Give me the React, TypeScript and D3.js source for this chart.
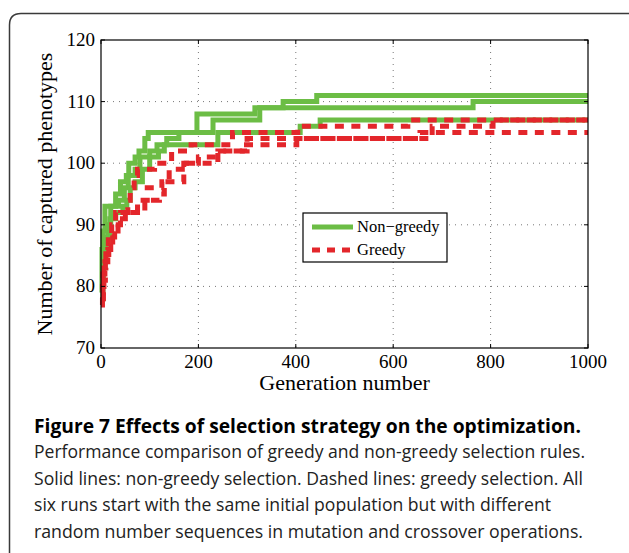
import React, { useEffect, useRef } from "react";
import * as d3 from "d3";

// step runs: [generation, captured phenotypes]
const nonGreedyRun1 = [[0, 79], [2, 86], [4, 89], [8, 93], [30, 95], [40, 97], [52, 98], [57, 100], [70, 101], [78, 102], [90, 104], [97, 105], [197, 108], [316, 109], [374, 110], [443, 111]];
const nonGreedyRun2 = [[0, 78], [4, 83], [8, 87], [14, 90], [20, 93], [36, 94], [48, 96], [56, 98], [70, 99], [80, 101], [100, 102], [115, 103], [135, 104], [160, 105], [230, 107], [326, 109], [764, 110]];
const nonGreedyRun3 = [[0, 80], [5, 84], [10, 88], [18, 91], [30, 92], [45, 93], [53, 94], [60, 96], [70, 97], [85, 99], [100, 101], [118, 102], [130, 103], [240, 105], [409, 106], [450, 107]];

const greedyRun1 = [[0, 77], [3, 80], [6, 83], [10, 86], [15, 88], [22, 90], [30, 92], [55, 94], [60, 96], [68, 98], [75, 99], [110, 100], [145, 102], [185, 103], [270, 105], [404, 106], [630, 107]];
const greedyRun2 = [[0, 79], [4, 82], [8, 84], [14, 86], [20, 88], [28, 90], [40, 92], [75, 94], [95, 96], [125, 97], [140, 99], [175, 100], [240, 102], [300, 104], [655, 105]];
const greedyRun3 = [[0, 78], [5, 81], [9, 84], [16, 86], [24, 89], [35, 91], [50, 92], [90, 94], [120, 95], [130, 97], [170, 100], [200, 101], [240, 102], [290, 103], [402, 104], [680, 106], [805, 107]];

const xTicks = [0, 200, 400, 600, 800, 1000];
const yTicks = [70, 80, 90, 100, 110, 120];
const legendLabels = ["Non\u2212greedy", "Greedy"];

const captionTitle = "Figure 7 Effects of selection strategy on the optimization.";
const captionLines = [
    "Performance comparison of greedy and non-greedy selection rules.",
    "Solid lines: non-greedy selection. Dashed lines: greedy selection. All",
    "six runs start with the same initial population but with different",
    "random number sequences in mutation and crossover operations.",
];
const captionWidths = [551, 549, 517, 549];

const GREEN = "#6cbd45";
const RED = "#e3262b";

export default function App() {
    const ref = useRef<SVGSVGElement>(null);

    useEffect(() => {
        const svg = d3.select(ref.current);
        svg.selectAll("*").remove();

        const width = 629;
        const height = 553;
        const margin = { top: 40, left: 101, right: 41, bottom: 205 };

        // card outline
        svg.append("path")
            .attr("d", `M9.5,${height + 5} L9.5,25 Q9.5,13.5 21,13.5 L${width + 5},13.5`)
            .attr("fill", "none")
            .attr("stroke", "#3a3a3a")
            .attr("stroke-width", 1.5);

        const x = d3.scaleLinear().domain([0, 1000]).range([margin.left, width - margin.right]);
        const y = d3.scaleLinear().domain([70, 120]).range([height - margin.bottom, margin.top]);

        const g = svg.append("g");

        // dotted grid
        g.selectAll(".vgrid").data(xTicks.slice(1, -1)).enter().append("line")
            .attr("x1", d => x(d)).attr("x2", d => x(d))
            .attr("y1", y(120)).attr("y2", y(70))
            .attr("stroke", "#777").attr("stroke-width", 1)
            .attr("stroke-dasharray", "1,5");
        g.selectAll(".hgrid").data(yTicks.slice(1, -1)).enter().append("line")
            .attr("x1", x(0)).attr("x2", x(1000))
            .attr("y1", d => y(d)).attr("y2", d => y(d))
            .attr("stroke", "#777").attr("stroke-width", 1)
            .attr("stroke-dasharray", "1,5");

        const line = d3.line<number[]>()
            .x(d => x(d[0]))
            .y(d => y(d[1]))
            .curve(d3.curveStepAfter);

        const withEnd = (run: number[][]) => [...run, [1000, run[run.length - 1][1]]];

        [nonGreedyRun1, nonGreedyRun2, nonGreedyRun3].forEach(run => {
            g.append("path")
                .attr("d", line(withEnd(run)))
                .attr("fill", "none")
                .attr("stroke", GREEN)
                .attr("stroke-width", 5);
        });

        [greedyRun1, greedyRun2, greedyRun3].forEach(run => {
            g.append("path")
                .attr("d", line(withEnd(run)))
                .attr("fill", "none")
                .attr("stroke", RED)
                .attr("stroke-width", 5)
                .attr("stroke-dasharray", "9,7.5");
        });

        // frame and ticks
        g.append("rect")
            .attr("x", x(0)).attr("y", y(120))
            .attr("width", x(1000) - x(0)).attr("height", y(70) - y(120))
            .attr("fill", "none").attr("stroke", "#000").attr("stroke-width", 1.2);

        xTicks.forEach(t => {
            g.append("line").attr("x1", x(t)).attr("x2", x(t)).attr("y1", y(70)).attr("y2", y(70) - 4).attr("stroke", "#000");
            g.append("line").attr("x1", x(t)).attr("x2", x(t)).attr("y1", y(120)).attr("y2", y(120) + 4).attr("stroke", "#000");
            g.append("text")
                .attr("x", x(t)).attr("y", y(70) + 20)
                .attr("text-anchor", "middle")
                .style("font-family", "'Liberation Serif', serif").style("font-size", "19px")
                .text(t);
        });
        yTicks.forEach(t => {
            g.append("line").attr("x1", x(0)).attr("x2", x(0) + 4).attr("y1", y(t)).attr("y2", y(t)).attr("stroke", "#000");
            g.append("line").attr("x1", x(1000)).attr("x2", x(1000) - 4).attr("y1", y(t)).attr("y2", y(t)).attr("stroke", "#000");
            g.append("text")
                .attr("x", x(0) - 6).attr("y", y(t) + 6)
                .attr("text-anchor", "end")
                .style("font-family", "'Liberation Serif', serif").style("font-size", "19px")
                .text(t);
        });

        g.append("text")
            .attr("x", (x(0) + x(1000)) / 2).attr("y", 390)
            .attr("text-anchor", "middle")
            .style("font-family", "'Liberation Serif', serif").style("font-size", "22px")
            .text("Generation number");

        g.append("text")
            .attr("transform", `translate(52, ${(y(70) + y(120)) / 2}) rotate(-90)`)
            .attr("text-anchor", "middle")
            .style("font-family", "'Liberation Serif', serif").style("font-size", "22px")
            .text("Number of captured phenotypes");

        // legend
        const lg = g.append("g").attr("transform", "translate(303,213)");
        lg.append("rect").attr("width", 144).attr("height", 49)
            .attr("fill", "#fff").attr("stroke", "#000").attr("stroke-width", 1.2);
        [GREEN, RED].forEach((c, i) => {
            lg.append("line")
                .attr("x1", 9).attr("x2", 50)
                .attr("y1", 14 + i * 23).attr("y2", 14 + i * 23)
                .attr("stroke", c).attr("stroke-width", 5)
                .attr("stroke-dasharray", i === 1 ? "8,7" : null);
            lg.append("text")
                .attr("x", 54).attr("y", 19 + i * 23)
                .style("font-family", "'Liberation Serif', serif").style("font-size", "16.5px")
                .text(legendLabels[i]);
        });

        // caption
        svg.append("text")
            .attr("x", 34).attr("y", 433)
            .attr("textLength", 547).attr("lengthAdjust", "spacingAndGlyphs")
            .style("font-family", "'Open Sans', sans-serif").style("font-size", "20px").style("font-weight", "bold")
            .text(captionTitle);
        captionLines.forEach((t, i) => {
            svg.append("text")
                .attr("x", 34).attr("y", 458 + i * 26.5)
                .attr("textLength", captionWidths[i]).attr("lengthAdjust", "spacingAndGlyphs")
                .style("font-family", "'Open Sans', sans-serif").style("font-size", "19px")
                .attr("fill", "#222")
                .text(t);
        });
    }, []);

    return (
        <svg ref={ref} width={629} height={553}
            style={{ position: "absolute", left: 0, top: 0, background: "#fff" }} />
    );
}
